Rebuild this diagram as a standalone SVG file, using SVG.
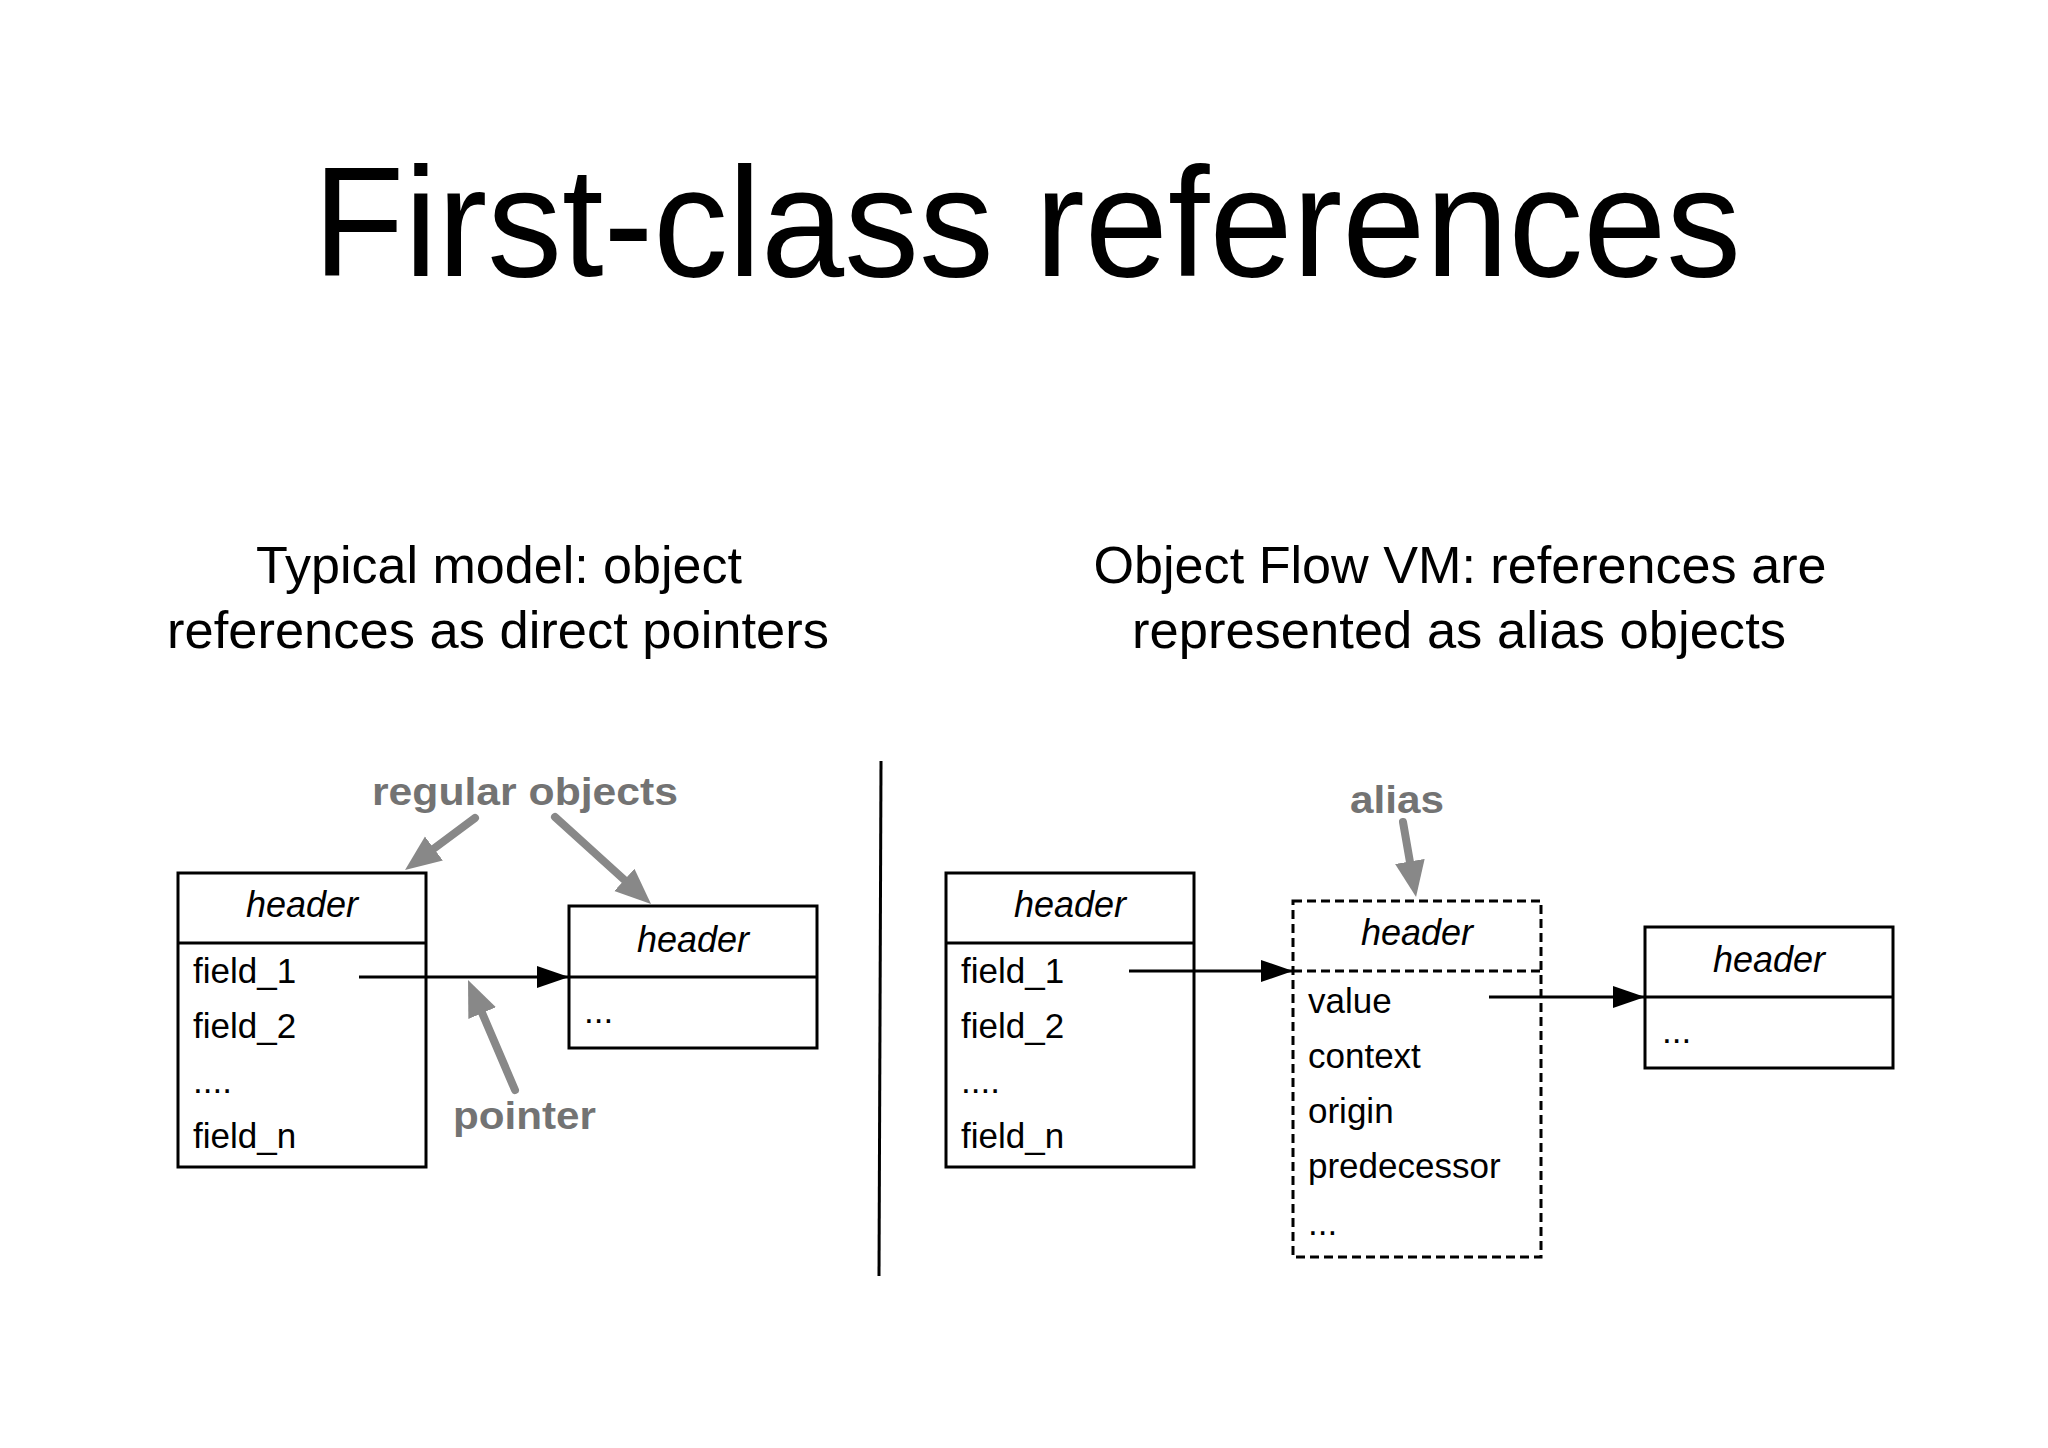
<svg xmlns="http://www.w3.org/2000/svg" width="2048" height="1448" viewBox="0 0 2048 1448">
<style>
.t{font-family:"Liberation Sans",Arial,Helvetica,sans-serif;fill:#000}
.title{font-size:156px}
.sub{font-size:52px}
.f{font-size:35px}
.h{font-size:36px;font-style:italic}
.lbl{font-size:38px;font-weight:bold;fill:#737373}
.box{fill:#fff;stroke:#000;stroke-width:3}
.dash{fill:#fff;stroke:#000;stroke-width:3;stroke-dasharray:9 5}
.div{stroke:#000;stroke-width:3}
.ddiv{stroke:#000;stroke-width:3;stroke-dasharray:9 5}
.conn{stroke:#000;stroke-width:3;fill:none}
.garr{stroke:#888;stroke-width:8;fill:none;stroke-linecap:round}
</style>
<defs>
<marker id="ah" markerUnits="userSpaceOnUse" markerWidth="34" markerHeight="24" refX="32" refY="11" orient="auto">
<path d="M0,0 L32,11 L0,22 z" fill="#000"/>
</marker>
<marker id="gh" markerUnits="userSpaceOnUse" markerWidth="40" markerHeight="32" refX="6" refY="15" orient="auto">
<path d="M0,0 L36,15 L0,30 z" fill="#888"/>
</marker>
</defs>
<rect width="2048" height="1448" fill="#fff"/>
<g id="title">
<text class="t title" x="313" y="276" textLength="1428" lengthAdjust="spacingAndGlyphs">First-class references</text>
</g>
<g id="subtitle-left">
<text class="t sub" x="499" y="583" text-anchor="middle" textLength="486" lengthAdjust="spacingAndGlyphs">Typical model: object</text>
<text class="t sub" x="498" y="648" text-anchor="middle" textLength="662" lengthAdjust="spacingAndGlyphs">references as direct pointers</text>
</g>
<g id="subtitle-right">
<text class="t sub" x="1460" y="583" text-anchor="middle" textLength="733" lengthAdjust="spacingAndGlyphs">Object Flow VM: references are</text>
<text class="t sub" x="1459" y="648" text-anchor="middle" textLength="654" lengthAdjust="spacingAndGlyphs">represented as alias objects</text>
</g>
<g id="separator">
<line class="div" x1="881" y1="761" x2="879" y2="1276"/>
</g>
<g id="obj-left">
<rect class="box" x="178" y="873" width="248" height="294"/>
<line class="div" x1="178" y1="943" x2="426" y2="943"/>
<text class="t h" x="302" y="917" text-anchor="middle">header</text>
<text class="t f" x="193" y="983">field_1</text>
<text class="t f" x="193" y="1038">field_2</text>
<text class="t f" x="193" y="1093">....</text>
<text class="t f" x="193" y="1148">field_n</text>
</g>
<g id="obj-target-left">
<rect class="box" x="569" y="906" width="248" height="142"/>
<line class="div" x1="569" y1="977" x2="817" y2="977"/>
<text class="t h" x="693" y="952" text-anchor="middle">header</text>
<text class="t f" x="584" y="1023">...</text>
</g>
<g id="obj-right">
<rect class="box" x="946" y="873" width="248" height="294"/>
<line class="div" x1="946" y1="943" x2="1194" y2="943"/>
<text class="t h" x="1070" y="917" text-anchor="middle">header</text>
<text class="t f" x="961" y="983">field_1</text>
<text class="t f" x="961" y="1038">field_2</text>
<text class="t f" x="961" y="1093">....</text>
<text class="t f" x="961" y="1148">field_n</text>
</g>
<g id="alias-obj">
<rect class="dash" x="1293" y="901" width="248" height="356"/>
<line class="ddiv" x1="1293" y1="971" x2="1541" y2="971"/>
<text class="t h" x="1417" y="945" text-anchor="middle">header</text>
<text class="t f" x="1308" y="1013">value</text>
<text class="t f" x="1308" y="1068">context</text>
<text class="t f" x="1308" y="1123">origin</text>
<text class="t f" x="1308" y="1178">predecessor</text>
<text class="t f" x="1308" y="1235">...</text>
</g>
<g id="obj-target-right">
<rect class="box" x="1645" y="927" width="248" height="141"/>
<line class="div" x1="1645" y1="997" x2="1893" y2="997"/>
<text class="t h" x="1769" y="972" text-anchor="middle">header</text>
<text class="t f" x="1662" y="1043">...</text>
</g>
<g id="labels">
<text class="t lbl" x="372" y="805" textLength="306" lengthAdjust="spacingAndGlyphs">regular objects</text>
<text class="t lbl" x="453" y="1129" textLength="143" lengthAdjust="spacingAndGlyphs">pointer</text>
<text class="t lbl" x="1350" y="813" textLength="94" lengthAdjust="spacingAndGlyphs">alias</text>
</g>
<g id="connectors">
<line class="conn" x1="359" y1="977" x2="569" y2="977" marker-end="url(#ah)"/>
<line class="conn" x1="1129" y1="971" x2="1293" y2="971" marker-end="url(#ah)"/>
<line class="conn" x1="1489" y1="997" x2="1645" y2="997" marker-end="url(#ah)"/>
<line class="garr" x1="475" y1="818" x2="429.1" y2="852.1" marker-end="url(#gh)"/>
<line class="garr" x1="555" y1="817" x2="628.8" y2="883.9" marker-end="url(#gh)"/>
<line class="garr" x1="515" y1="1090" x2="479.8" y2="1007.6" marker-end="url(#gh)"/>
<line class="garr" x1="1403" y1="822" x2="1410.9" y2="867.4" marker-end="url(#gh)"/>
</g>
</svg>
